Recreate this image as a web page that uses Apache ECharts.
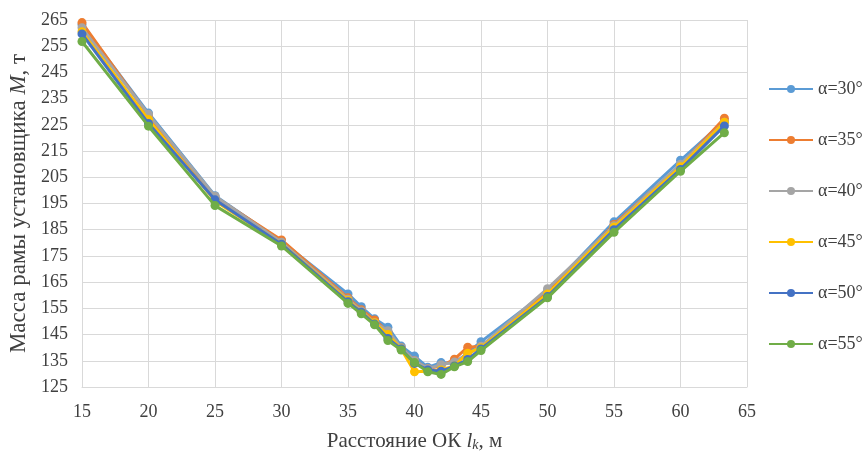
<!DOCTYPE html>
<html>
<head>
<meta charset="utf-8">
<script src="https://cdn.jsdelivr.net/npm/echarts@6/dist/echarts.min.js"></script>
<style>
html,body{margin:0;padding:0;background:#fff;}
#chart{width:863px;height:457px;}
</style>
</head>
<body>
<div id="chart"></div>
<script>
// расстояние OK, м
var xValues = [15, 20, 25, 30, 35, 36, 37, 38, 39, 40, 41, 42, 43, 44, 45, 50, 55, 60, 63.3];

var seriesNames = ['α=30°', 'α=35°', 'α=40°', 'α=45°', 'α=50°', 'α=55°'];
var seriesColors = ['#5B9BD5', '#ED7D31', '#A5A5A5', '#FFC000', '#4472C4', '#70AD47'];

var mass30 = [263.2, 229.5, 198.0, 180.5, 160.5, 155.6, 151.0, 147.8, 140.6, 136.8, 132.5, 134.3, 134.0, 138.0, 142.3, 161.5, 188.0, 211.5, 226.5];
var mass35 = [264.0, 228.5, 197.5, 181.1, 159.0, 154.5, 150.6, 146.0, 140.0, 135.0, 132.0, 133.0, 135.6, 140.2, 140.5, 161.0, 187.0, 209.6, 227.5];
var mass40 = [262.0, 229.0, 197.8, 180.2, 158.5, 154.0, 149.5, 146.5, 140.0, 135.0, 132.0, 133.5, 134.5, 137.5, 140.5, 162.5, 186.5, 210.0, 226.0];
var mass45 = [260.5, 227.0, 196.0, 179.5, 158.0, 153.5, 149.5, 145.0, 139.5, 130.8, 131.0, 131.5, 133.0, 137.9, 140.0, 160.5, 186.0, 209.0, 226.0];
var mass50 = [259.7, 225.5, 196.4, 179.5, 157.5, 153.5, 149.0, 143.5, 139.5, 134.0, 131.5, 131.0, 133.0, 135.5, 139.5, 159.5, 185.0, 208.0, 224.6];
var mass55 = [256.8, 224.5, 194.2, 178.8, 156.9, 152.9, 148.7, 142.7, 139.1, 134.3, 130.8, 129.8, 132.7, 134.7, 138.9, 159.0, 184.0, 207.3, 222.0];

var allMass = [mass30, mass35, mass40, mass45, mass50, mass55];

function makePairs(ys){
	var out = [];
	for (var i = 0; i < xValues.length; i++) {
		out.push([xValues[i], ys[i]]);
	}
	return out;
}

var chart = echarts.init(document.getElementById('chart'));
var serif = '"Liberation Serif", "Times New Roman", serif';

var series = [];
for (var k = 0; k < allMass.length; k++) {
	series.push({
		name: seriesNames[k],
		type: 'line',
		data: makePairs(allMass[k]),
		symbol: 'circle',
		symbolSize: 9,
		showSymbol: true,
		lineStyle: {width: 3, color: seriesColors[k]},
		itemStyle: {color: seriesColors[k]},
		emphasis: {disabled: true},
		z: 2 + k
	});
}

var option = {
	animation: false,
	backgroundColor: '#fff',
	grid: {left: 82, right: 116, top: 20, bottom: 70, outerBoundsMode: 'none', containLabel: false},
	legend: {
		orient: 'vertical',
		left: 763,
		top: 75,
		itemWidth: 44,
		itemHeight: 10,
		itemGap: 33,
		textStyle: {fontFamily: serif, fontSize: 18, color: '#404040'},
		data: seriesNames
	},
	xAxis: {
		type: 'value',
		min: 15,
		max: 65,
		interval: 5,
		axisLine: {show: true, lineStyle: {color: '#d9d9d9', width: 1}},
		axisTick: {show: false},
		splitLine: {show: true, lineStyle: {color: '#d9d9d9', width: 1}},
		axisLabel: {fontFamily: serif, fontSize: 18, color: '#404040', margin: 16},
		name: '{n|Расстояние ОК }{i|l}{s|k}{n|, м}',
		nameLocation: 'middle',
		nameGap: 44,
		nameTextStyle: {
			rich: {
				n: {fontFamily: serif, fontSize: 21, color: '#404040'},
				i: {fontFamily: serif, fontSize: 21, fontStyle: 'italic', color: '#404040'},
				s: {fontFamily: serif, fontSize: 14, fontStyle: 'italic', color: '#404040', verticalAlign: 'bottom', padding: [7, 0, 0, 0]}
			}
		}
	},
	yAxis: {
		type: 'value',
		min: 125,
		max: 265,
		interval: 10,
		axisLine: {show: true, lineStyle: {color: '#d9d9d9', width: 1}},
		axisTick: {show: false},
		splitLine: {show: true, lineStyle: {color: '#d9d9d9', width: 1}},
		axisLabel: {fontFamily: serif, fontSize: 18, color: '#404040', margin: 14},
		name: '{n|Масса рамы установщика }{i|M}{n|, т}',
		nameLocation: 'middle',
		nameGap: 52,
		nameTextStyle: {
			rich: {
				n: {fontFamily: serif, fontSize: 23, color: '#404040'},
				i: {fontFamily: serif, fontSize: 23, fontStyle: 'italic', color: '#404040'}
			}
		}
	},
	series: series
};

chart.setOption(option);
</script>
</body>
</html>
